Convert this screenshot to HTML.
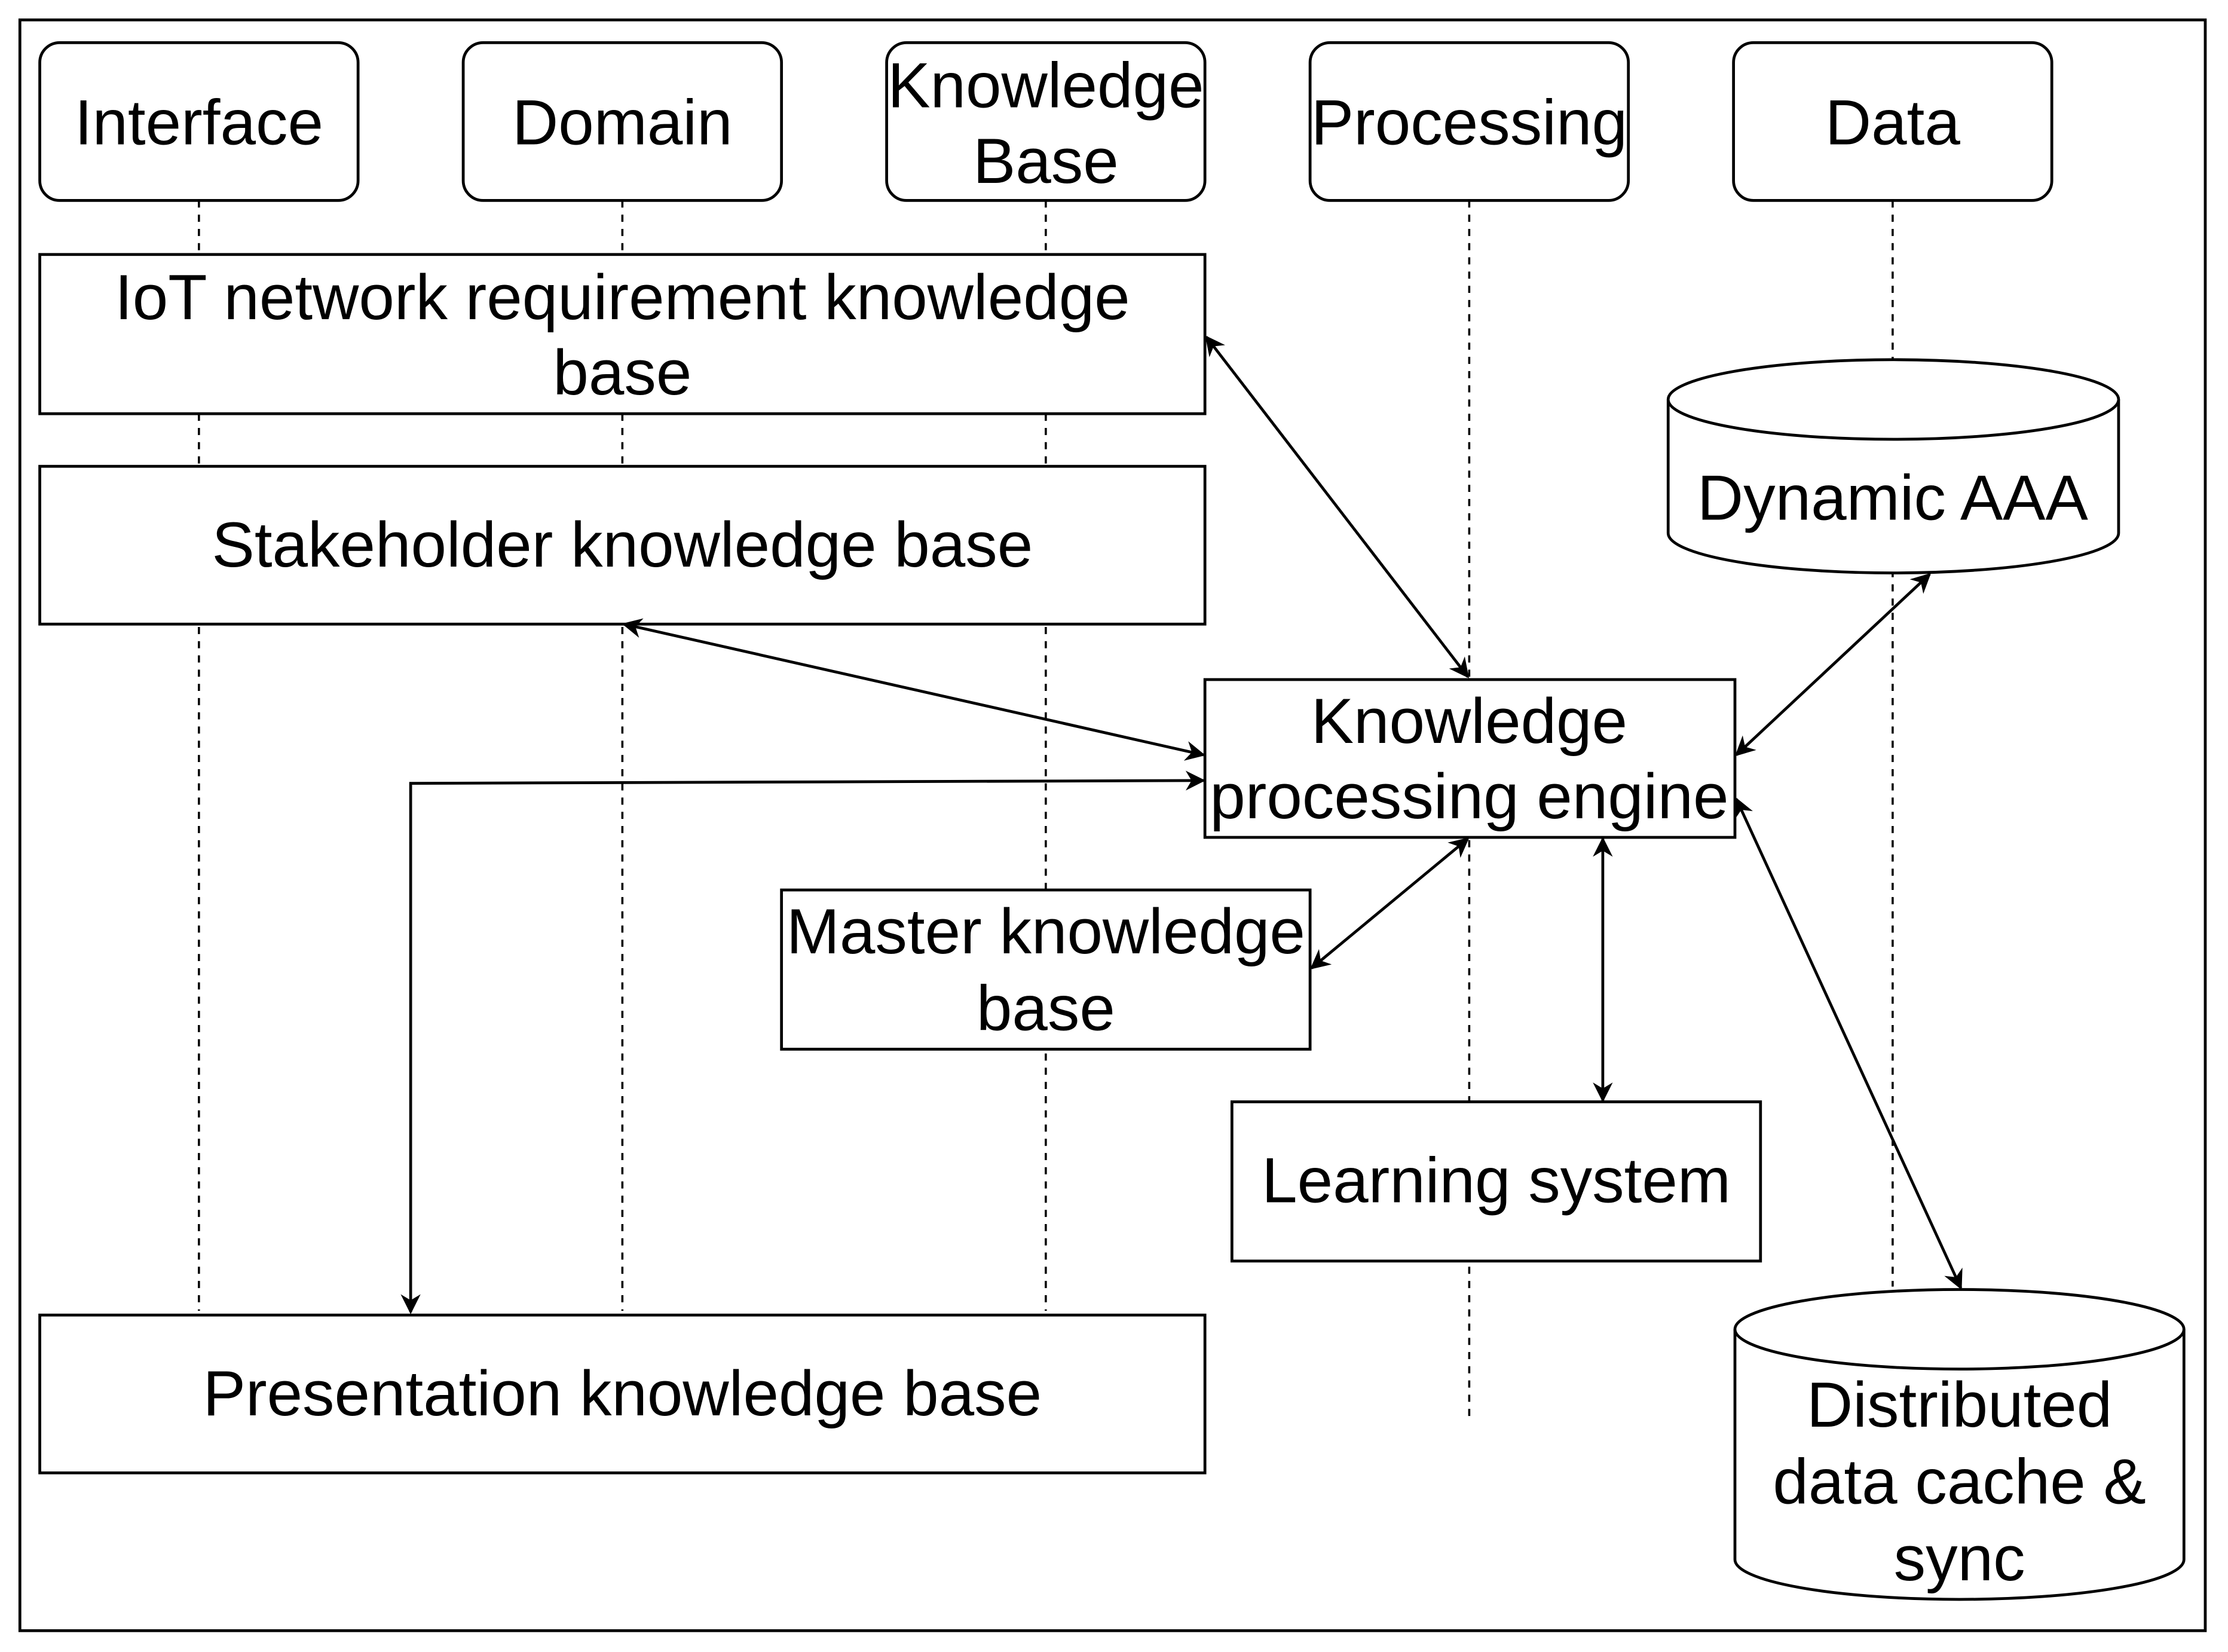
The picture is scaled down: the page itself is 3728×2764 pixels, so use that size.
<!DOCTYPE html>
<html><head><meta charset="utf-8"><style>
html,body{margin:0;padding:0;background:#fff;}
svg{display:block;}
text{font-family:"Liberation Sans",sans-serif;font-size:45px;fill:#000;text-anchor:middle;dominant-baseline:central;}
</style></head><body>
<svg width="3728" height="2764" viewBox="0 0 1568 1162" preserveAspectRatio="none" xmlns="http://www.w3.org/2000/svg">
<defs>
<marker id="b" viewBox="0 0 10 10" refX="9" refY="5" markerWidth="14" markerHeight="14" orient="auto-start-reverse" markerUnits="userSpaceOnUse">
<path d="M0,0 L10,5 L0,10 L3,5 z" fill="#000"/></marker>
</defs>
<rect x="14" y="14" width="1538" height="1133" fill="#fff" stroke="#000" stroke-width="2"/>
<g stroke="#000" stroke-width="1.5" stroke-dasharray="5,5" fill="none">
<line x1="140" y1="141" x2="140" y2="922"/>
<line x1="438" y1="141" x2="438" y2="922"/>
<line x1="736" y1="141" x2="736" y2="922"/>
<line x1="1034" y1="141" x2="1034" y2="1000"/>
<line x1="1332" y1="141" x2="1332" y2="905"/>
</g>
<g fill="#fff" stroke="#000" stroke-width="2">
<rect x="28" y="30" width="224" height="111" rx="14"/>
<rect x="326" y="30" width="224" height="111" rx="14"/>
<rect x="624" y="30" width="224" height="111" rx="14"/>
<rect x="922" y="30" width="224" height="111" rx="14"/>
<rect x="1220" y="30" width="224" height="111" rx="14"/>
<rect x="28" y="179" width="820" height="112"/>
<rect x="28" y="328" width="820" height="111"/>
<rect x="28" y="925" width="820" height="111"/>
<rect x="848" y="478" width="373" height="111"/>
<rect x="550" y="626" width="372" height="112"/>
<rect x="867" y="775" width="372" height="112"/>
<path d="M1174,281 L1174,375 A158.5,28 0 0 0 1491,375 L1491,281 A158.5,28 0 0 0 1174,281 Z"/>
<path d="M1174,281 A158.5,28 0 0 0 1491,281"/>
<path d="M1221,935 L1221,1097 A158,28 0 0 0 1537,1097 L1537,935 A158,28 0 0 0 1221,935 Z"/>
<path d="M1221,935 A158,28 0 0 0 1537,935"/>
</g>
<text x="140" y="86">Interface</text>
<text x="438" y="86">Domain</text>
<text x="736" y="60">Knowledge</text>
<text x="736" y="113">Base</text>
<text x="1034" y="86">Processing</text>
<text x="1332" y="86">Data</text>
<text x="438" y="209">IoT network requirement knowledge</text>
<text x="438" y="262">base</text>
<text x="438" y="383">Stakeholder knowledge base</text>
<text x="438" y="980">Presentation knowledge base</text>
<text x="1034" y="507">Knowledge</text>
<text x="1034" y="560">processing engine</text>
<text x="736" y="655">Master knowledge</text>
<text x="736" y="709">base</text>
<text x="1053" y="830">Learning system</text>
<text x="1332" y="350">Dynamic AAA</text>
<text x="1379" y="988">Distributed</text>
<text x="1379" y="1042">data cache &amp;</text>
<text x="1379" y="1096">sync</text>
<g stroke="#000" stroke-width="2" fill="none" marker-start="url(#b)" marker-end="url(#b)">
<line x1="849" y1="237" x2="1033" y2="476"/>
<line x1="439" y1="439" x2="847" y2="531"/>
<polyline points="847,549 289,551 289,923"/>
<line x1="1033" y1="590" x2="923" y2="681"/>
<line x1="1128" y1="590" x2="1128" y2="774"/>
<line x1="1222" y1="531" x2="1358" y2="404"/>
<line x1="1222" y1="562" x2="1380" y2="906"/>
</g>
</svg>
</body></html>
